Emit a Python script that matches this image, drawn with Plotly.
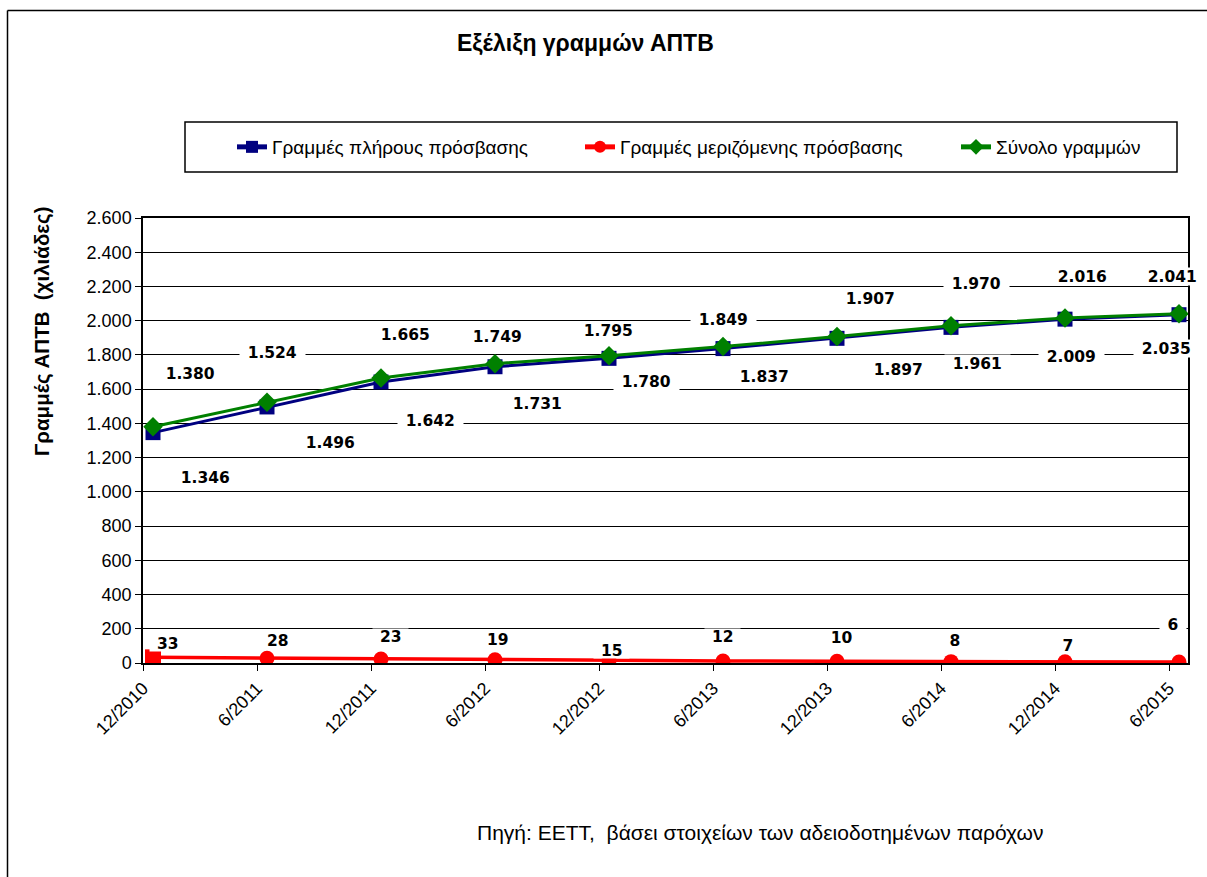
import plotly.graph_objects as go

# ---- data ----
categories = ["12/2010", "6/2011", "12/2011", "6/2012", "12/2012",
              "6/2013", "12/2013", "6/2014", "12/2014", "6/2015"]
full_access = [1346, 1496, 1642, 1731, 1780, 1837, 1897, 1961, 2009, 2035]
shared_access = [33, 28, 23, 19, 15, 12, 10, 8, 7, 6]
total_lines = [1380, 1524, 1665, 1749, 1795, 1849, 1907, 1970, 2016, 2041]

names = ["Γραμμές πλήρους πρόσβασης", "Γραμμές μεριζόμενης πρόσβασης", "Σύνολο γραμμών"]

# ---- label offsets (style: pixel shifts of data labels) ----
full_dx = [52, 63, 49, 42, 37, 41, 61, 26, 6, -13]
full_dy = [-45, -36, -39, -37, -23, -28, -31, -36, -37, -34]
total_dx = [37, 5, 24, 2, -1, 0, 33, 25, 17, -7]
total_dy = [53, 50, 44, 27, 25, 27, 38, 42, 41, 37]
shared_dx = [14, 10, 9, 2, 2, -1, 4, 4, 3, -6]
shared_dy = [14, 18, 23, 20, 10, 24, 24, 21, 16, 37]

W, H = 1207, 877
L, R, T, B = 143, 19, 218, 214
PW, PH = W - L - R, H - T - B


def px2x(px):
    return (px - L) / PW


def py2y(py):
    return (H - B - py) / PH


def fmt(v):
    return f"{v:,}".replace(",", ".")


xs = list(range(len(categories)))
x0 = -0.0877
x1 = x0 + PW / 114.0

fig = go.Figure()
fig.add_trace(go.Scatter(
    x=xs, y=full_access, name=names[0], mode="lines+markers",
    line=dict(color="#000080", width=3),
    marker=dict(symbol="square", size=15, color="#000080"),
    legend="legend"))
fig.add_trace(go.Scatter(
    x=xs, y=shared_access, name=names[1], mode="lines+markers",
    line=dict(color="#FF0000", width=3.5),
    marker=dict(symbol="circle", size=15, color="#FF0000"),
    legend="legend2"))
# first point of the shared-access series is drawn as a square in the original
fig.add_trace(go.Scatter(
    x=xs[:1], y=shared_access[:1], mode="markers", showlegend=False,
    marker=dict(symbol="square", size=16, color="#FF0000"), hoverinfo="skip"))
fig.add_trace(go.Scatter(
    x=xs, y=total_lines, name=names[2], mode="lines+markers",
    line=dict(color="#008000", width=3),
    marker=dict(symbol="diamond", size=15, color="#008000"),
    legend="legend3"))

annotations = []
lab_font = dict(family="DejaVu Sans", size=15.5, color="black")


def add_labels(vals, dxs, dys, h):
    for i, v in enumerate(vals):
        t = fmt(v)
        annotations.append(dict(
            x=xs[i], y=v, xref="x", yref="y", text="<b>" + t + "</b>",
            showarrow=False, xshift=dxs[i], yshift=dys[i],
            xanchor="center", yanchor="middle",
            bgcolor="white", borderpad=0, width=len(t) * 9.7 + 16, height=h,
            font=lab_font))


add_labels(full_access, full_dx, full_dy, 17)
add_labels(total_lines, total_dx, total_dy, 17)
add_labels(shared_access, shared_dx, shared_dy, 15)

annotations.append(dict(
    x=px2x(585), y=py2y(43), xref="paper", yref="paper",
    xanchor="center", yanchor="middle",
    text="<b>Εξέλιξη γραμμών ΑΠΤΒ</b>", showarrow=False,
    font=dict(family="Liberation Sans", size=23, color="black")))
annotations.append(dict(
    x=px2x(42), y=py2y(331), xref="paper", yref="paper",
    xanchor="center", yanchor="middle",
    text="<b>Γραμμές ΑΠΤΒ  (χιλιάδες)</b>", showarrow=False, textangle=-90,
    font=dict(family="Liberation Sans", size=20.5, color="black")))
annotations.append(dict(
    x=px2x(760), y=py2y(832), xref="paper", yref="paper",
    xanchor="center", yanchor="middle",
    text="Πηγή: ΕΕΤΤ,  βάσει στοιχείων των αδειοδοτημένων παρόχων", showarrow=False,
    font=dict(family="Liberation Sans", size=21, color="black")))

shapes = [
    # outer chart frame (left and top edges visible)
    dict(type="line", xref="paper", yref="paper", x0=px2x(7.5), x1=px2x(7.5),
         y0=py2y(880), y1=py2y(10.5), line=dict(color="black", width=1.5)),
    dict(type="line", xref="paper", yref="paper", x0=px2x(7.5), x1=px2x(1210),
         y0=py2y(10.5), y1=py2y(10.5), line=dict(color="black", width=1.5)),
    # legend frame
    dict(type="rect", xref="paper", yref="paper", x0=px2x(185), x1=px2x(1177),
         y0=py2y(172), y1=py2y(122), line=dict(color="black", width=1.5)),
]

leg_common = dict(orientation="h", yanchor="middle", xanchor="left",
                  bgcolor="rgba(0,0,0,0)", borderwidth=0, itemsizing="constant",
                  font=dict(family="Liberation Sans", size=19, color="black"))
fig.update_layout(
    width=W, height=H,
    margin=dict(l=L, r=R, t=T, b=B, pad=0),
    paper_bgcolor="white", plot_bgcolor="white",
    separators=",.",
    showlegend=True,
    legend=dict(x=px2x(232), y=py2y(147), **leg_common),
    legend2=dict(x=px2x(580), y=py2y(147), **leg_common),
    legend3=dict(x=px2x(956), y=py2y(147), **leg_common),
    annotations=annotations,
    shapes=shapes,
    xaxis=dict(
        range=[x0, x1], tickmode="array",
        tickvals=[i + x0 for i in xs], ticktext=categories,
        tickangle=-45, ticks="outside", ticklen=6, tickcolor="black",
        showline=True, linecolor="black", linewidth=1.5, mirror=True,
        showgrid=False, zeroline=False,
        tickfont=dict(family="Liberation Sans", size=18, color="black")),
    yaxis=dict(
        range=[0, 2600], dtick=200, tickformat=",d",
        ticks="outside", ticklen=6, tickcolor="black",
        showline=True, linecolor="black", linewidth=1.5, mirror=True,
        showgrid=True, gridcolor="black", gridwidth=1, zeroline=False,
        tickfont=dict(family="Liberation Sans", size=18, color="black")),
)

fig.write_html("out.html", config={"displayModeBar": False},
               post_script="document.body.style.margin='0px';")
